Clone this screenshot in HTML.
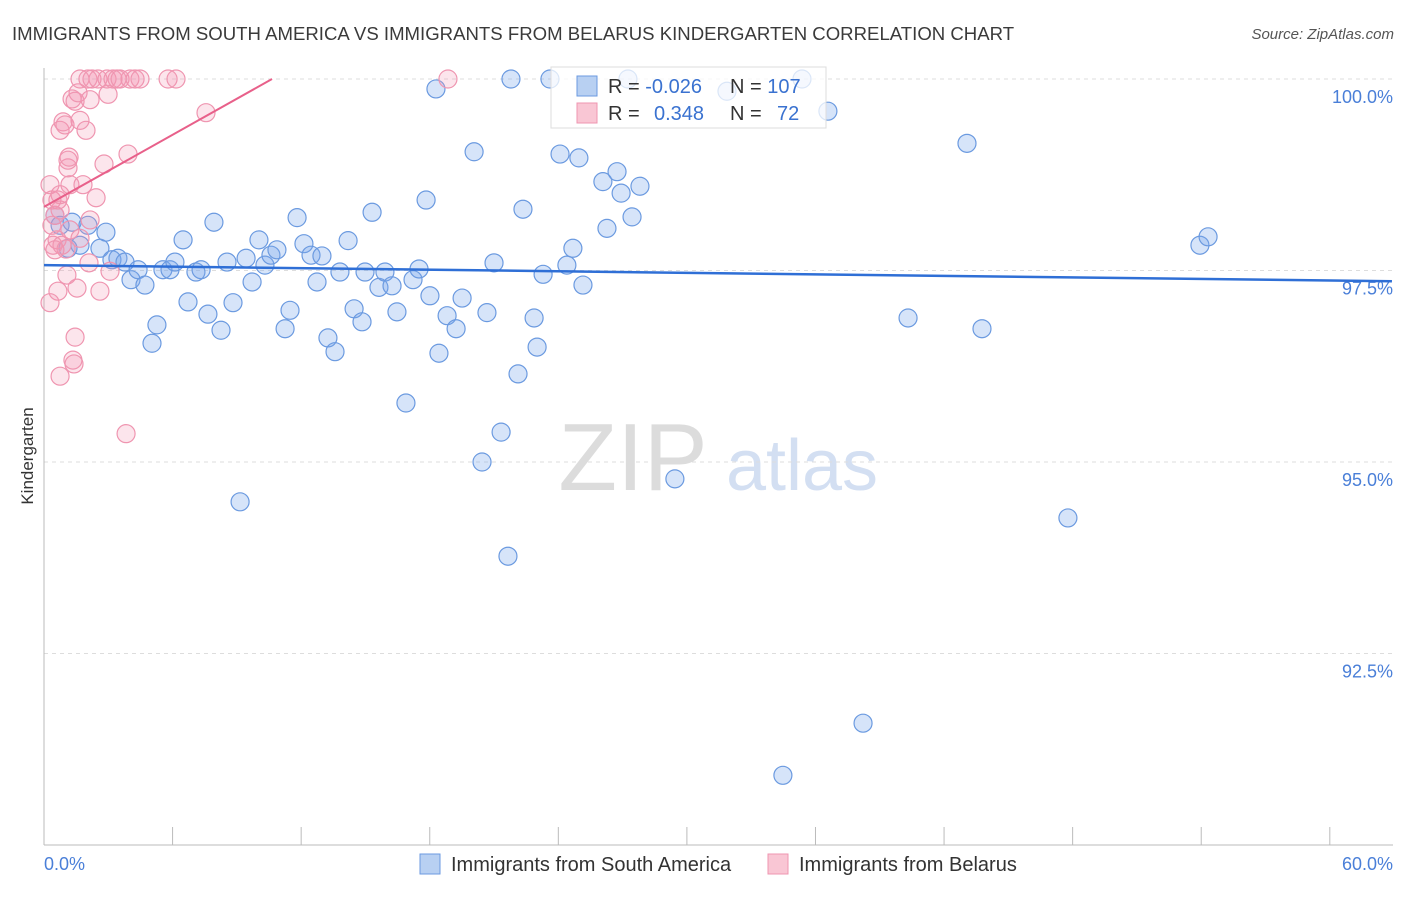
<!DOCTYPE html>
<html><head><meta charset="utf-8"><style>
body{margin:0;background:#fff;font-family:"Liberation Sans",sans-serif;}
svg text{font-family:"Liberation Sans",sans-serif;}
</style></head><body>
<svg id="chart" width="1406" height="892" viewBox="0 0 1406 892" xmlns="http://www.w3.org/2000/svg">
<text x="12" y="40" font-size="18.6" fill="#3a3a3a">IMMIGRANTS FROM SOUTH AMERICA VS IMMIGRANTS FROM BELARUS KINDERGARTEN CORRELATION CHART</text>
<text x="1394" y="39" font-size="15" fill="#555" font-style="italic" text-anchor="end">Source: ZipAtlas.com</text>
<text transform="translate(33,456) rotate(-90)" font-size="17" fill="#333" text-anchor="middle">Kindergarten</text>
<g>
<text x="633" y="490" font-size="96" fill="#d4d4d4" font-family="Liberation Serif" text-anchor="middle" opacity="0.8">ZIP</text>
<text x="802" y="490" font-size="72" fill="#c9d8f0" text-anchor="middle" opacity="0.8">atlas</text>
</g>
<g id="grid"></g><g id="axes"></g><g id="pts"></g><g id="lines"></g>
<g>
<rect x="551" y="67" width="275" height="61" fill="#fff" fill-opacity="0.75" stroke="#ddd"/>
<rect x="577" y="76" width="20" height="20" fill="#b8d0f2" stroke="#6b9ae0"/>
<rect x="577" y="103" width="20" height="20" fill="#f9c6d4" stroke="#ef95b0"/>
<text x="608" y="93" font-size="20" fill="#333">R = <tspan fill="#3a72d0">-0.026</tspan></text>
<text x="730" y="93" font-size="20" fill="#333">N = <tspan fill="#3a72d0">107</tspan></text>
<text x="608" y="120" font-size="20" fill="#333">R = <tspan fill="#3a72d0" x="654">0.348</tspan></text>
<text x="730" y="120" font-size="20" fill="#333">N = <tspan fill="#3a72d0" x="777">72</tspan></text>
</g>
<g>
<rect x="420" y="854" width="20" height="20" fill="#b8d0f2" stroke="#6b9ae0"/>
<text x="451" y="871" font-size="20" fill="#333">Immigrants from South America</text>
<rect x="768" y="854" width="20" height="20" fill="#f9c6d4" stroke="#ef95b0"/>
<text x="799" y="871" font-size="20" fill="#333">Immigrants from Belarus</text>
</g>
</svg>
<script>
const blueX=[.51,.75,1.12,1.31,1.68,2.05,2.61,2.89,3.17,3.45,3.78,4.06,4.39,4.71,5.04,5.27,5.55,5.88,6.11,6.49,6.72,7.09,7.33,7.65,7.93,8.26,8.54,8.82,9.15,9.43,9.71,10.03,10.31,10.59,10.87,11.25,11.48,11.81,12.13,12.46,12.74,12.97,13.25,13.58,13.81,14.19,14.47,14.84,14.98,15.31,15.63,15.91,16.24,16.47,16.89,17.22,17.5,17.83,18.01,18.29,18.43,18.81,19.23,19.51,20.07,20.44,20.67,21.0,21.33,21.65,21.79,22.12,22.35,22.87,23.01,23.29,23.61,24.08,24.4,24.68,24.96,25.15,26.08,26.27,26.74,26.93,27.25,27.44,27.81,29.44,31.87,34.48,35.37,36.58,38.22,40.32,43.07,43.77,47.78,53.94,54.32];
const blueY=[98.22,98.09,97.79,98.13,97.83,98.09,97.79,98.0,97.64,97.66,97.61,97.38,97.51,97.31,96.55,96.79,97.51,97.51,97.61,97.9,97.09,97.48,97.51,96.93,98.13,96.72,97.61,97.08,94.48,97.66,97.35,97.9,97.57,97.7,97.77,96.74,96.98,98.19,97.85,97.7,97.35,97.69,96.62,96.44,97.48,97.89,97.0,96.83,97.48,98.26,97.28,97.48,97.3,96.96,95.77,97.38,97.52,98.42,97.17,99.87,96.42,96.91,96.74,97.14,99.05,95.0,96.95,97.6,95.39,93.77,100.0,96.15,98.3,96.88,96.5,97.45,100.0,99.02,97.57,97.79,98.97,97.31,98.66,98.05,98.79,98.51,100.0,98.2,98.6,94.78,99.84,90.91,100.0,99.58,91.59,96.88,99.16,96.74,94.27,97.83,97.94];
const pinkX=[.28,.28,.37,.37,.42,.51,.61,.65,.75,.75,.89,.98,1.03,1.07,1.12,1.12,1.17,1.21,1.31,1.35,1.4,1.45,1.45,1.54,1.59,1.68,1.68,1.82,1.96,2.05,2.1,2.15,2.15,2.24,2.43,2.52,2.61,2.8,2.94,2.99,3.08,3.22,3.41,3.55,3.83,3.92,4.01,4.25,4.48,5.79,6.16,7.56,18.85,.75,.84,.51,1.21,1.68,.65,.75];
const pinkY=[97.08,98.62,98.42,98.09,97.83,98.22,97.9,97.23,96.12,99.33,99.44,99.4,97.78,97.44,98.84,98.94,98.98,98.62,99.74,96.33,96.28,96.63,99.71,97.27,99.82,99.46,100.0,98.62,99.33,100.0,97.6,99.73,98.16,100.0,98.45,100.0,97.23,98.89,100.0,99.8,97.49,100.0,100.0,100.0,95.37,99.02,100.0,100.0,100.0,100.0,100.0,99.56,100.0,98.29,97.83,97.77,98.03,97.92,98.42,98.49];
const blueTrendX=[0,62.9], blueTrendY=[97.57,97.36];
const pinkTrendX=[0,10.64], pinkTrendY=[98.33,100.0];
const yTicks=[100,97.5,95,92.5];
const yTickLabels=["100.0%","97.5%","95.0%","92.5%"];
const xTicks=[0,6,12,18,24,30,36,42,48,54,60];
const NS="http://www.w3.org/2000/svg";
const sx=v=>44+v*21.43, sy=v=>79+(100-v)*76.6;
function mk(t,a,p){const e=document.createElementNS(NS,t);for(const k in a)e.setAttribute(k,a[k]);document.getElementById(p).appendChild(e);return e;}
yTicks.forEach((v,i)=>{
 const g=mk('line',{x1:44,x2:1393,y1:sy(v),y2:sy(v),stroke:'#ddd','stroke-dasharray':'4,4'},'grid');
 
 
 const t=mk('text',{x:1393,y:sy(v)+24,'font-size':18,fill:'#4a7fd8','text-anchor':'end'},'axes');
 t.textContent=yTickLabels[i];
 
 
});
const ya=mk('line',{x1:44,x2:44,y1:68,y2:845,stroke:'#bbb'},'axes');


const xa=mk('line',{x1:44,x2:1393,y1:845,y2:845,stroke:'#bbb'},'axes');


xTicks.forEach(v=>{const l=mk('line',{x1:sx(v),x2:sx(v),y1:827,y2:845,stroke:'#bbb'},'axes');
 
 });
const xl0=mk('text',{x:44,y:870,'font-size':18,fill:'#4a7fd8'},'axes');xl0.textContent='0.0%';


const xl1=mk('text',{x:1393,y:870,'font-size':18,fill:'#4a7fd8','text-anchor':'end'},'axes');xl1.textContent='60.0%';


blueX.forEach((x,i)=>{const c=mk('circle',{cx:sx(x),cy:sy(blueY[i]),r:9,fill:'rgba(120,165,235,0.3)',stroke:'#6b9ae0','stroke-width':1.2},'pts');
 
 });
pinkX.forEach((x,i)=>{const c=mk('circle',{cx:sx(x),cy:sy(pinkY[i]),r:9,fill:'rgba(245,150,180,0.25)',stroke:'#ef95b0','stroke-width':1.2},'pts');
 
 });
const bl=mk('line',{x1:sx(blueTrendX[0]),y1:sy(blueTrendY[0]),x2:sx(blueTrendX[1]),y2:sy(blueTrendY[1]),stroke:'#2f6fd6','stroke-width':2.5},'lines');


const pl=mk('line',{x1:sx(pinkTrendX[0]),y1:sy(pinkTrendY[0]),x2:sx(pinkTrendX[1]),y2:sy(pinkTrendY[1]),stroke:'#e8608a','stroke-width':2},'lines');


</script>
</body></html>
